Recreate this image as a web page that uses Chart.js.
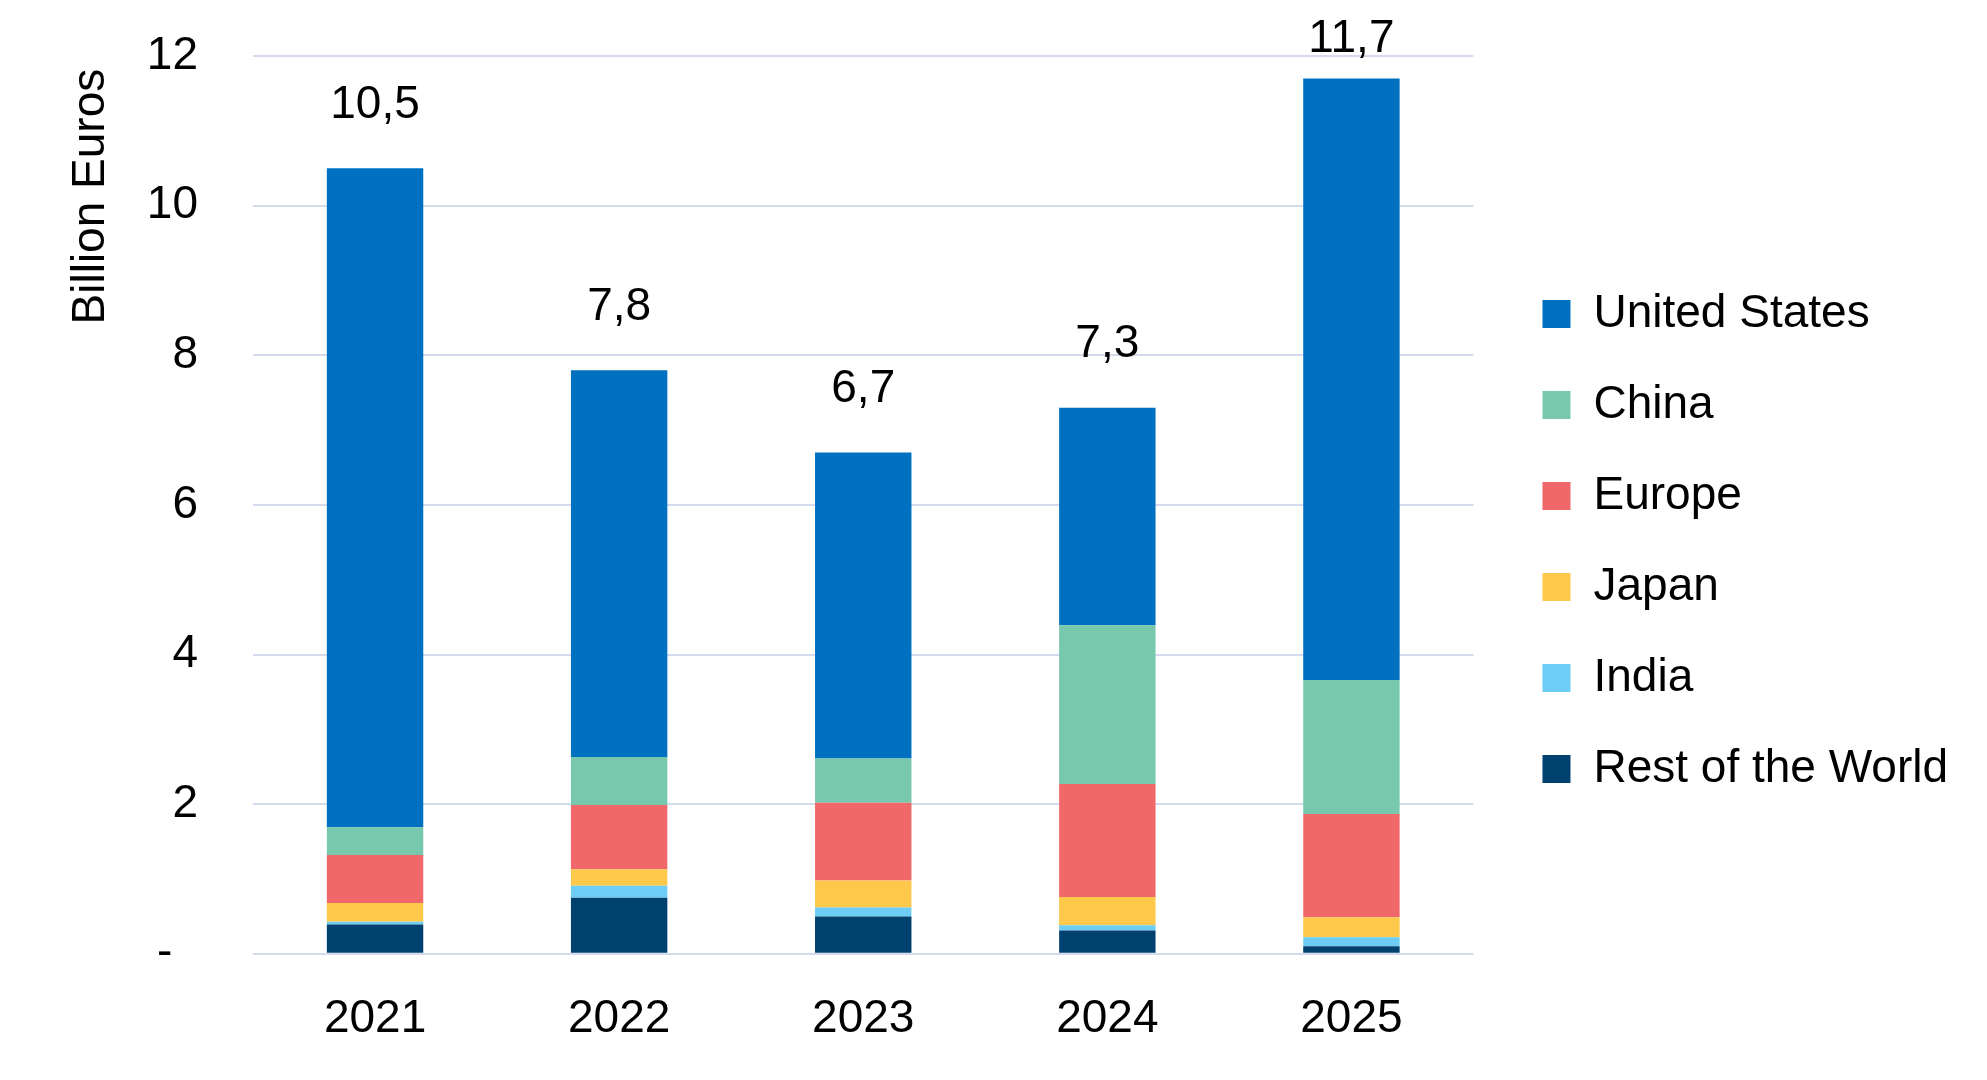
<!DOCTYPE html>
<html><head><meta charset="utf-8">
<script src="https://cdn.jsdelivr.net/npm/chart.js@4.4.1/dist/chart.umd.min.js"></script>
<style>html,body{margin:0;padding:0;background:#fff}#wrap{width:1987px;height:1080px}</style>
</head><body><div id="wrap"><canvas id="cv" width="1987" height="1080"></canvas></div>
<script>
// ═══ DATA ═══ (billion euros)
var years=['2021','2022','2023','2024','2025'];
var restWorld=[0.39,0.75,0.50,0.31,0.10];
var india=[0.04,0.16,0.12,0.07,0.12];
var japan=[0.25,0.22,0.36,0.38,0.27];
var europe=[0.64,0.86,1.04,1.51,1.38];
var china=[0.37,0.64,0.59,2.12,1.79];
var unitedStates=[8.81,5.17,4.09,2.91,8.04];
var yTicks=[0,2,4,6,8,10,12];

var FONT='"Liberation Sans", Arial, sans-serif';
var FS=46;
var LEGEND_GAP=24,LEGEND_SHIFT_Y=-25;
var series=[
  {label:'Rest of the World',data:restWorld,color:'#00416F'},
  {label:'India',data:india,color:'#6ECDF4'},
  {label:'Japan',data:japan,color:'#FEC94B'},
  {label:'Europe',data:europe,color:'#F0686A'},
  {label:'China',data:china,color:'#78C8AD'},
  {label:'United States',data:unitedStates,color:'#0070C0'}
];

// totals above the stacks
var totalsPlugin={id:'totals',afterDatasetsDraw:function(chart){
  var ctx=chart.ctx;var top=chart.getDatasetMeta(series.length-1);
  ctx.save();ctx.font=FS+'px '+FONT;ctx.fillStyle='#000';ctx.textAlign='center';ctx.textBaseline='middle';
  years.forEach(function(y,i){
    var tot=series.reduce(function(a,s){return a+s.data[i];},0);
    var el=top.data[i];
    var ty=Math.max(el.y-63,39);
    ctx.fillText(tot.toFixed(1).replace('.',','),el.x,ty);
  });
  ctx.restore();
}};

// extra room between plot and legend, legend nudged up a bit
var legendGap={id:'legendGap',beforeLayout:function(chart){
  var lg=chart.legend;if(!lg||lg._gapped)return;lg._gapped=true;
  var fit=lg.fit;lg.fit=function(){fit.call(this);this.width+=LEGEND_GAP;};
  var draw=lg.draw;lg.draw=function(){this.ctx.save();this.ctx.translate(LEGEND_GAP,LEGEND_SHIFT_Y);draw.call(this);this.ctx.restore();};
}};

new Chart(document.getElementById('cv'),{type:'bar',
  data:{labels:years,datasets:series.map(function(s){return{label:s.label,data:s.data,backgroundColor:s.color,borderWidth:0,
    categoryPercentage:1,barPercentage:0.395};})},
  options:{responsive:false,animation:false,
    layout:{padding:{top:56,left:60,right:29,bottom:3}},
    plugins:{
      legend:{position:'right',reverse:true,
        labels:{boxWidth:28,boxHeight:28,padding:45,color:'#000',font:{size:FS,family:FONT}}},
      tooltip:{enabled:false}
    },
    scales:{
      x:{stacked:true,grid:{display:false},border:{display:false},
        ticks:{color:'#000',padding:30,font:{size:FS,family:FONT}}},
      y:{stacked:true,min:0,max:12,
        afterBuildTicks:function(ax){ax.ticks=yTicks.map(function(v){return{value:v};});},
        afterFit:function(ax){ax.width=193;},
        grid:{color:'#D3DBEC',lineWidth:2,drawTicks:true,tickLength:55,tickColor:'rgba(0,0,0,0)'},border:{display:false},
        ticks:{color:'#000',padding:0,font:{size:FS,family:FONT},callback:function(v){return v===0?'-\u00a0\u00a0':v;}},
        title:{display:true,text:'Billion Euros\u00a0',align:'end',color:'#000',font:{size:FS,family:FONT},padding:{top:4,bottom:10}}}
    }
  },
  plugins:[totalsPlugin,legendGap]
});
</script></body></html>
